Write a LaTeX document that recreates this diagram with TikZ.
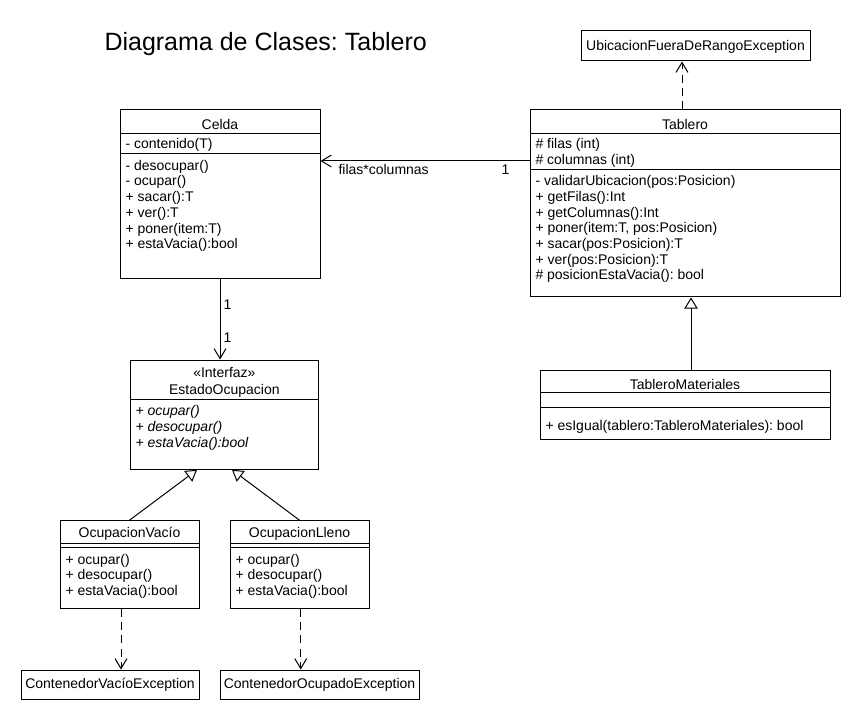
\documentclass[tikz,border=0pt]{standalone}
\usepackage{fontspec}
\setmainfont{Liberation Sans}
\usepackage{tikz}
\usetikzlibrary{arrows.meta,fit}
\frenchspacing

\begin{document}
\begin{tikzpicture}[x=0.75pt,y=-0.75pt,line width=0.75pt]

    \tikzstyle{clase} = [draw, rectangle, inner sep=0pt]
    \tikzstyle{nombre} = [anchor=base, inner sep=0pt, font=\fontsize{10.5}{12}\selectfont]
    \tikzstyle{miembro} = [anchor=base west, inner sep=0pt, font=\fontsize{10.5}{12}\selectfont]
    \tikzstyle{asoc} = [-{Straight Barb[length=7.5pt,width=9pt]}]
    \tikzstyle{depende} = [dash pattern=on 6pt off 4pt, -{Straight Barb[length=7.5pt,width=9pt]}]
    \tikzstyle{hereda} = [-{Triangle[open,length=8.25pt,width=10pt,fill=white]}]

    \useasboundingbox (0,0) rectangle (860,720);

    % Title
    \node[anchor=base west, inner sep=0pt, font=\fontsize{18.75}{22}\selectfont] (titulo) at (104,51) {Diagrama de Clases: Tablero};

    % Celda
    \node[clase, fit={(120,110) (320,279)}] (celda) {};
    \node[nombre] (celdaN) at (220,129.3) {Celda};
    \draw (120,134) -- (320,134);
    \draw (120,153.3) -- (320,153.3);
    \node[miembro] (celdaA1) at (125,149) {- contenido(T)};
    \node[miembro] (celdaM1) at (125,170.4) {- desocupar()};
    \node[miembro] (celdaM2) at (125,185.7) {- ocupar()};
    \node[miembro] (celdaM3) at (125,201.4) {+ sacar():T};
    \node[miembro] (celdaM4) at (125,217.4) {+ ver():T};
    \node[miembro] (celdaM5) at (125,233.4) {+ poner(item:T)};
    \node[miembro] (celdaM6) at (125,249) {+ estaVacia():bool};

    % Tablero
    \node[clase, fit={(530,110) (840,297)}] (tablero) {};
    \node[nombre] (tableroN) at (685,129.3) {Tablero};
    \draw (530,134) -- (840,134);
    \draw (530,170) -- (840,170);
    \node[miembro] (tableroA1) at (535,149) {\# filas (int)};
    \node[miembro] (tableroA2) at (535,164.7) {\# columnas (int)};
    \node[miembro] (tableroM1) at (535,185.7) {- validarUbicacion(pos:Posicion)};
    \node[miembro] (tableroM2) at (535,201.4) {+ getFilas():Int};
    \node[miembro] (tableroM3) at (535,217.1) {+ getColumnas():Int};
    \node[miembro] (tableroM4) at (535,232.8) {+ poner(item:T, pos:Posicion)};
    \node[miembro] (tableroM5) at (535,248.5) {+ sacar(pos:Posicion):T};
    \node[miembro] (tableroM6) at (535,264.2) {+ ver(pos:Posicion):T};
    \node[miembro] (tableroM7) at (535,279.9) {\# posicionEstaVacia(): bool};

    % UbicacionFueraDeRangoException
    \node[clase, fit={(581,31) (810,61)}] (ubicacion) {};
    \node[nombre] (ubicacionN) at (695.5,51) {UbicacionFueraDeRangoException};

    % TableroMateriales
    \node[clase, fit={(540,370.7) (830,439)}] (materiales) {};
    \node[nombre] (materialesN) at (685,389) {TableroMateriales};
    \draw (540,392.7) -- (830,392.7);
    \draw (540,407.7) -- (830,407.7);
    \node[miembro] (materialesM1) at (545,430.4) {+ esIgual(tablero:TableroMateriales): bool};

    % EstadoOcupacion
    \node[clase, fit={(130.7,360) (318,469.3)}] (estado) {};
    \node[nombre] (estadoE) at (224.4,377) {«Interfaz»};
    \node[nombre] (estadoN) at (224.4,394) {EstadoOcupacion};
    \draw (130.7,399) -- (318,399);
    \node[miembro, font=\fontsize{10.5}{12}\selectfont\itshape] (estadoM1) at (135,415.7) {+ ocupar()};
    \node[miembro, font=\fontsize{10.5}{12}\selectfont\itshape] (estadoM2) at (135,431.4) {+ desocupar()};
    \node[miembro, font=\fontsize{10.5}{12}\selectfont\itshape] (estadoM3) at (135,447.1) {+ estaVacia():bool};

    % OcupacionVacio
    \node[clase, fit={(60,520.7) (199,608.3)}] (vacio) {};
    \node[nombre] (vacioN) at (129.5,537.4) {OcupacionVacío};
    \draw (60,543.3) -- (199,543.3);
    \draw (60,547.7) -- (199,547.7);
    \node[miembro] (vacioM1) at (65,564) {+ ocupar()};
    \node[miembro] (vacioM2) at (65,579.7) {+ desocupar()};
    \node[miembro] (vacioM3) at (65,595.4) {+ estaVacia():bool};

    % OcupacionLleno
    \node[clase, fit={(230,520.7) (369,608.3)}] (lleno) {};
    \node[nombre] (llenoN) at (299.5,537.4) {OcupacionLleno};
    \draw (230,543.3) -- (369,543.3);
    \draw (230,547.7) -- (369,547.7);
    \node[miembro] (llenoM1) at (235,564) {+ ocupar()};
    \node[miembro] (llenoM2) at (235,579.7) {+ desocupar()};
    \node[miembro] (llenoM3) at (235,595.4) {+ estaVacia():bool};

    % Exceptions
    \node[clase, fit={(21,670) (199,699)}] (contvacio) {};
    \node[nombre] (contvacioN) at (110,688) {ContenedorVacíoException};
    \node[clase, fit={(220,670) (419,699)}] (contocupado) {};
    \node[nombre] (contocupadoN) at (319.5,688) {ContenedorOcupadoException};

    % Arrows
    \draw[asoc] (tablero.west |- 0,161) -- (celda.east |- 0,161);
    \draw[asoc] (celda.south) -- (celda.south |- estado.north);
    \draw[depende] (tablero.north -| 682,0) -- (ubicacion.south -| 682,0);
    \draw[hereda] (materiales.north -| 691,0) -- (tablero.south -| 691,0);
    \draw[hereda] (vacio.north) -- (estado.south -| 197,0);
    \draw[hereda] (lleno.north) -- (estado.south -| 232,0);
    \draw[depende] (vacio.south -| 121,0) -- (contvacio.north -| 121,0);
    \draw[depende] (lleno.south -| 300.7,0) -- (contocupado.north -| 300.7,0);

    % Labels
    \node[miembro] (multFilas) at (338,174.7) {filas*columnas};
    \node[nombre] (multUno) at (505.5,174.7) {1};
    \node[nombre] (multCelda) at (227.5,309.7) {1};
    \node[nombre] (multEstado) at (227.5,342.7) {1};

\end{tikzpicture}
\end{document}
